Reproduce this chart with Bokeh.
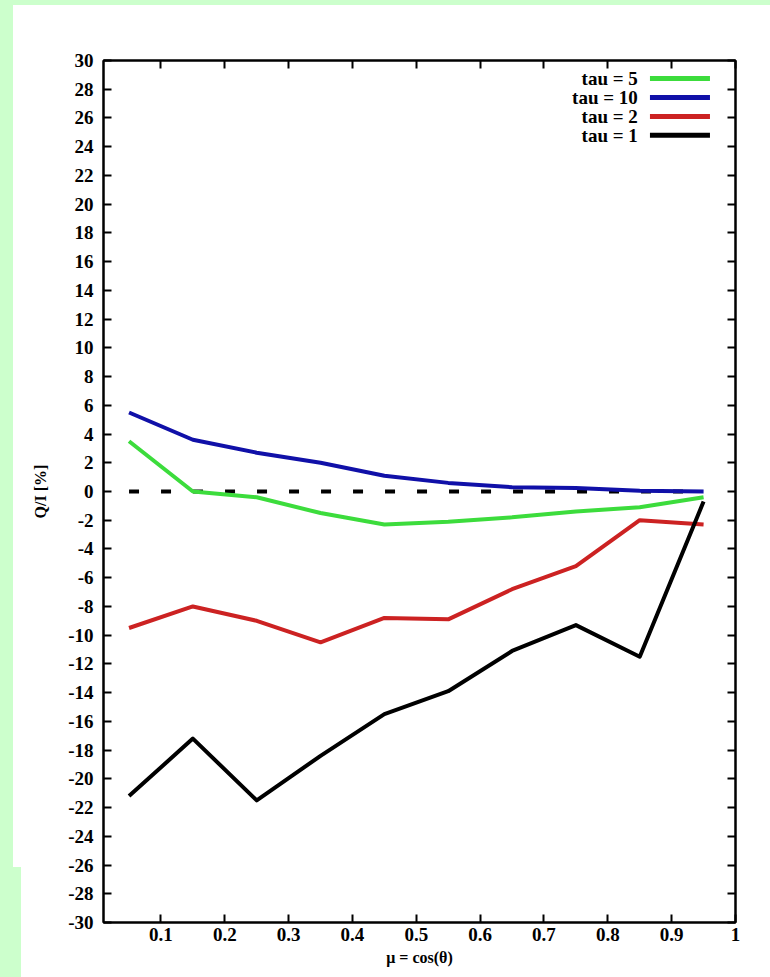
from bokeh.plotting import figure
from bokeh.layouts import column, row
from bokeh.models import Range1d, FixedTicker, LinearAxis, Spacer
from bokeh.core.properties import value
from bokeh.embed import file_html
from bokeh.resources import INLINE

# ---- data ----
mu = [0.05, 0.15, 0.25, 0.35, 0.45, 0.55, 0.65, 0.75, 0.85, 0.95]
qi_tau5 = [3.5, 0.0, -0.4, -1.5, -2.3, -2.1, -1.8, -1.4, -1.1, -0.4]
qi_tau10 = [5.5, 3.6, 2.7, 2.0, 1.1, 0.6, 0.3, 0.25, 0.05, 0.0]
qi_tau2 = [-9.5, -8.0, -9.0, -10.5, -8.8, -8.9, -6.8, -5.2, -2.0, -2.3]
qi_tau1 = [-21.2, -17.2, -21.5, -18.4, -15.5, -13.9, -11.1, -9.3, -11.5, -0.7]
series_labels = ["tau = 5", "tau = 10", "tau = 2", "tau = 1"]
series_colors = ["#3cdc3c", "#1010a8", "#cc2222", "#000000"]
x_ticks = [0.1, 0.2, 0.3, 0.4, 0.5, 0.6, 0.7, 0.8, 0.9, 1.0]
x_tick_labels = ["0.1", "0.2", "0.3", "0.4", "0.5", "0.6", "0.7", "0.8", "0.9", "1"]
y_ticks = list(range(-30, 31, 2))
y_tick_labels = [str(v) for v in y_ticks]
x_title = "\u03bc = cos(\u03b8)"
y_title = "Q/I [%]"

X_MIN, X_MAX = 0.01, 1.0
Y_MIN, Y_MAX = -30, 30
GREEN_BG = "#ccffcc"
FONT_NAME = "Liberation Serif"

p = figure(width=749, height=972,
           x_range=Range1d(X_MIN, X_MAX), y_range=Range1d(Y_MIN, Y_MAX),
           output_backend="svg", toolbar_location=None,
           min_border_left=82, min_border_right=35,
           min_border_top=55, min_border_bottom=55,
           background_fill_color="white", border_fill_color="white",
           x_axis_label=x_title, y_axis_label=y_title)
p.grid.visible = False
p.outline_line_color = "black"
p.outline_line_width = 2

p.add_layout(LinearAxis(), "right")
p.add_layout(LinearAxis(), "above")

for ax in p.xaxis:
    ax.ticker = FixedTicker(ticks=x_ticks)
    ax.major_label_overrides = dict(zip(x_ticks, x_tick_labels))
for ax in p.yaxis:
    ax.ticker = FixedTicker(ticks=y_ticks)
    ax.major_label_overrides = dict(zip(y_ticks, y_tick_labels))

for ax in p.axis:
    ax.axis_line_width = 2
    ax.major_tick_line_width = 2
    ax.major_tick_in = 8
    ax.major_tick_out = 0
    ax.minor_tick_line_color = None
    ax.major_label_text_font = FONT_NAME
    ax.major_label_text_font_style = "bold"
    ax.major_label_text_font_size = "19px"
    ax.major_label_text_color = "black"
    ax.axis_label_text_font = FONT_NAME
    ax.axis_label_text_font_style = "bold"
    ax.axis_label_text_font_size = "16px"
    ax.axis_label_text_color = "black"

p.xaxis[0].major_label_standoff = 12
p.xaxis[0].axis_label_standoff = 0
p.yaxis[0].major_label_standoff = 10
p.yaxis[0].axis_label_standoff = 16
for ax in (p.right[0], p.above[0]):
    ax.major_label_text_color = None
    ax.major_label_standoff = 0

# zero reference line
p.line([mu[0], mu[-1]], [0, 0], line_color="black", line_width=4, line_dash="10 22")

series = [qi_tau5, qi_tau10, qi_tau2, qi_tau1]
for ys, c in zip(series, series_colors):
    p.line(mu, ys, line_color=c, line_width=4, line_join="round")

# legend (text on the left, sample line on the right)
leg_top = 28.75
leg_step = 1.32
leg_rows = [leg_top - i * leg_step for i in range(len(series_labels))]
p.text(x=[0.847] * 4, y=leg_rows, text=series_labels,
       text_align="right", text_baseline="middle",
       text_font=value(FONT_NAME), text_font_style="bold", text_font_size="19px",
       text_color="black")
p.segment(x0=[0.866] * 4, x1=[0.960] * 4, y0=leg_rows, y1=leg_rows,
          line_color=series_colors, line_width=5)

# light-green page frame (top strip, left strip with a step at the bottom)
top_strip = Spacer(width=770, height=5, styles={"background-color": GREEN_BG})
left_upper = Spacer(width=13, height=862, styles={"background-color": GREEN_BG})
left_lower = Spacer(width=21, height=110, styles={"background-color": GREEN_BG})
layout = column(top_strip, row(column(left_upper, left_lower), p))

open("out.html", "w").write(file_html(layout, INLINE))
